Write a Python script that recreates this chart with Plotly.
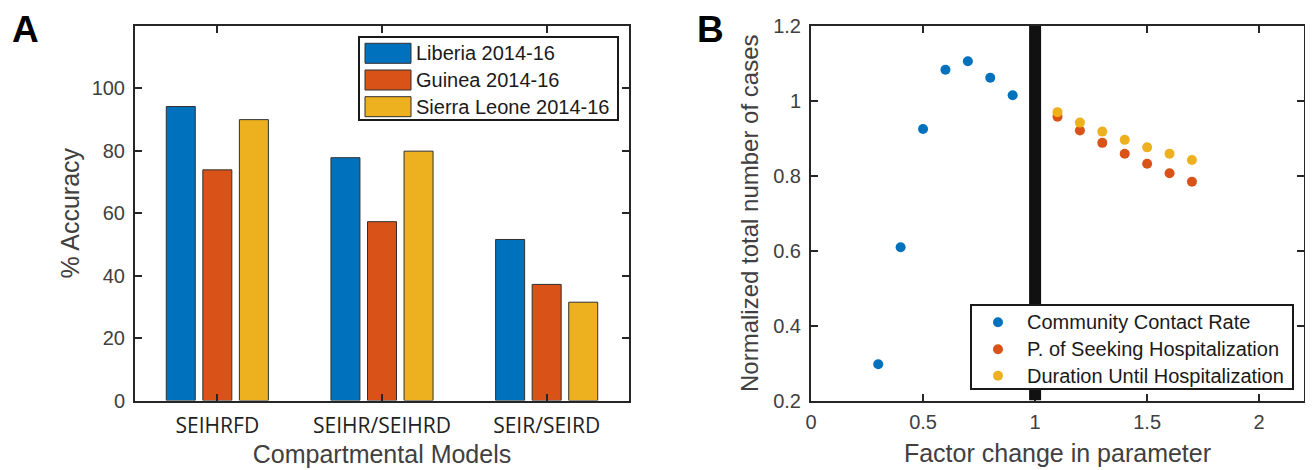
import plotly.graph_objects as go

# ---------------- data ----------------
categories = ["SEIHRFD", "SEIHR/SEIHRD", "SEIR/SEIRD"]
bar_names = ["Liberia 2014-16", "Guinea 2014-16", "Sierra Leone 2014-16"]
liberia = [94.2, 77.8, 51.6]
guinea = [73.9, 57.3, 37.2]
sierra_leone = [90.0, 79.9, 31.5]

contact_x = [0.3, 0.4, 0.5, 0.6, 0.7, 0.8, 0.9]
contact_y = [0.297, 0.609, 0.925, 1.083, 1.106, 1.062, 1.015]
seeking_x = [1.1, 1.2, 1.3, 1.4, 1.5, 1.6, 1.7]
seeking_y = [0.958, 0.921, 0.888, 0.859, 0.832, 0.807, 0.784]
duration_x = [1.1, 1.2, 1.3, 1.4, 1.5, 1.6, 1.7]
duration_y = [0.970, 0.942, 0.918, 0.896, 0.876, 0.859, 0.842]
scatter_names = ["Community Contact Rate", "P. of Seeking Hospitalization",
                 "Duration Until Hospitalization"]

a_yticks = [0, 20, 40, 60, 80, 100]
b_xticks = [0, 0.5, 1, 1.5, 2]
b_xticklabels = ["0", "0.5", "1", "1.5", "2"]
b_yticks = [0.2, 0.4, 0.6, 0.8, 1.0, 1.2]
b_yticklabels = ["0.2", "0.4", "0.6", "0.8", "1", "1.2"]
baseline_factor = 1.0

colors = ["#0072BD", "#D95319", "#EDB120"]

# ---------------- layout helpers ----------------
# the page body has an 8px margin, so the figure is placed at (8, 8)
OFF = 8
W, H = 1313 - OFF, 470 - OFF
FONT = "Liberation Sans, Arial, Helvetica, sans-serif"
AXC = "#262626"
TXT = "#404040"
LEG = "#1a1a1a"


def px(x):
    return (x - OFF) / W


def py(y):
    return 1 - (y - OFF) / H


fig = go.Figure()

for name, vals, col in zip(bar_names, [liberia, guinea, sierra_leone], colors):
    fig.add_trace(go.Bar(x=categories, y=vals, name=name, marker_color=col,
                         marker_line=dict(color="#303030", width=1),
                         showlegend=False, xaxis="x", yaxis="y"))

for name, xs, ys, col in zip(scatter_names, [contact_x, seeking_x, duration_x],
                             [contact_y, seeking_y, duration_y], colors):
    fig.add_trace(go.Scatter(x=xs, y=ys, name=name, mode="markers",
                             marker=dict(color=col, size=10),
                             showlegend=False, xaxis="x2", yaxis="y2"))

axis_common = dict(showline=True, linecolor=AXC, linewidth=2, mirror="ticks",
                   ticks="inside", ticklen=7, tickwidth=1.5, tickcolor=AXC,
                   showgrid=False, zeroline=False, automargin=False)
num_font = dict(family=FONT, size=20, color=TXT)
title_font = dict(family=FONT, size=25, color=TXT)

fig.update_layout(
    width=W, height=H, margin=dict(l=0, r=0, t=0, b=0, autoexpand=False),
    paper_bgcolor="white", plot_bgcolor="white", showlegend=False,
    barmode="group", bargap=0.334, bargroupgap=0.207,
    xaxis=dict(domain=[px(135), px(629)], anchor="y", type="category",
               range=[-0.5, 2.5], **axis_common,
               tickfont=dict(family="Open Sans", size=21, color="#222222"),
               ticklabelstandoff=5,
               title=dict(text="Compartmental Models", standoff=8, font=title_font)),
    yaxis=dict(domain=[py(400.5), py(26)], anchor="x", range=[0, 120],
               tickvals=a_yticks, **axis_common, tickfont=num_font,
               ticklabelstandoff=4,
               title=dict(text="% Accuracy", standoff=5, font=title_font)),
    xaxis2=dict(domain=[px(811), px(1304)], anchor="y2", range=[0, 2.2],
                tickvals=b_xticks, ticktext=b_xticklabels, **axis_common,
                tickfont=num_font, ticklabelstandoff=2,
                title=dict(text="Factor change in parameter", standoff=13,
                           font=title_font)),
    yaxis2=dict(domain=[py(400.5), py(26)], anchor="x2", range=[0.2, 1.2],
                tickvals=b_yticks, ticktext=b_yticklabels, **axis_common,
                tickfont=num_font, ticklabelstandoff=4,
                title=dict(text="Normalized total number of cases", standoff=8,
                           font=dict(family=FONT, size=24, color=TXT))),
)

# vertical baseline marker in panel B
fig.add_shape(type="line", xref="x2", yref="y2", x0=baseline_factor, x1=baseline_factor,
              y0=0.2, y1=1.2, line=dict(color="#111111", width=12), layer="above")

# legend for panel A (wide colour swatches as in the original)
fig.add_shape(type="rect", xref="paper", yref="paper", x0=px(359), x1=px(618),
              y0=py(120), y1=py(37), line=dict(color=LEG, width=2),
              fillcolor="white", layer="above")
for name, col, yc in zip(bar_names, colors, [53.3, 80.0, 106.7]):
    fig.add_shape(type="rect", xref="paper", yref="paper", x0=px(365), x1=px(411),
                  y0=py(yc + 10), y1=py(yc - 10), fillcolor=col,
                  line=dict(color="#303030", width=1), layer="above")
    fig.add_annotation(x=px(414), y=py(yc), xref="paper", yref="paper", text=name,
                       showarrow=False, xanchor="left", yanchor="middle",
                       font=dict(family=FONT, size=20, color=LEG))

# legend for panel B
fig.add_shape(type="rect", xref="paper", yref="paper", x0=px(971), x1=px(1293),
              y0=py(389), y1=py(305), line=dict(color=LEG, width=2),
              fillcolor="white", layer="above")
for name, col, yc in zip(scatter_names, colors, [322.3, 349.3, 375.7]):
    fig.add_shape(type="circle", xref="paper", yref="paper",
                  x0=px(998 - 5), x1=px(998 + 5), y0=py(yc + 5), y1=py(yc - 5),
                  fillcolor=col, line=dict(width=0), layer="above")
    fig.add_annotation(x=px(1025), y=py(yc), xref="paper", yref="paper", text=name,
                       showarrow=False, xanchor="left", yanchor="middle",
                       font=dict(family=FONT, size=20, color=LEG))

# panel letters (anchored at the top edge so the text box stays inside the figure)
for letter, xc in [("A", 25), ("B", 710)]:
    fig.add_annotation(x=px(xc), y=1, xref="paper", yref="paper",
                       text="<b>" + letter + "</b>", showarrow=False,
                       xanchor="center", yanchor="top", borderpad=0,
                       font=dict(family=FONT, size=37, color="black"))

fig.write_html("out.html")
